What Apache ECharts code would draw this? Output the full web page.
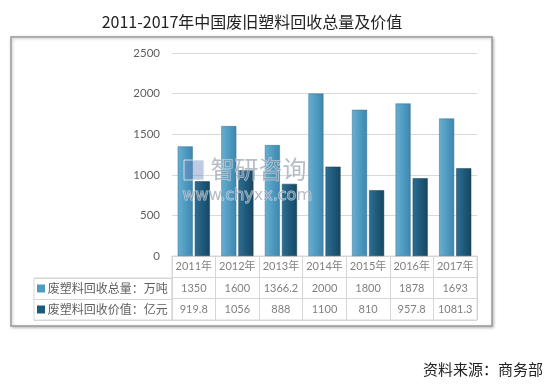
<!DOCTYPE html>
<html>
<head>
<meta charset="utf-8">
<script src="https://cdn.jsdelivr.net/npm/echarts@6/dist/echarts.min.js"></script>
<style>
html,body{margin:0;padding:0;background:#fff;}
#c{width:556px;height:388px;}
</style>
</head>
<body>
<div id="c"></div>
<script>
const years = ['2011年','2012年','2013年','2014年','2015年','2016年','2017年'];
const totalVolume = [1350, 1600, 1366.2, 2000, 1800, 1878, 1693];
const totalValue = [919.8, 1056, 888, 1100, 810, 957.8, 1081.3];
const seriesNames = ['废塑料回收总量：万吨', '废塑料回收价值：亿元'];
const yTicks = [0, 500, 1000, 1500, 2000, 2500];

const lightColor = new echarts.graphic.LinearGradient(0,0,1,0,[
  {offset:0,color:'#6aaed0'},{offset:0.5,color:'#4f9bc2'},{offset:1,color:'#3f86ac'}]);
const darkColor = new echarts.graphic.LinearGradient(0,0,1,0,[
  {offset:0,color:'#2f6f92'},{offset:0.5,color:'#1f5a7c'},{offset:1,color:'#17475f'}]);

const rowKeys = ['h','r1','r2'];
const tableData = [];
years.forEach((y,i)=>{
  tableData.push({value:[y,'h'], txt:y});
  tableData.push({value:[y,'r1'], txt:String(totalVolume[i])});
  tableData.push({value:[y,'r2'], txt:String(totalValue[i])});
});

const fontNum = 'Lato, "Noto Sans CJK SC", sans-serif';
const chart = echarts.init(document.getElementById('c'), null, {renderer:'canvas'});
chart.setOption({
  animation:false,
  backgroundColor:'#fff',
  title:{text:'2011-2017年中国废旧塑料回收总量及价值', left:247, textAlign:'center', top:9,
    textStyle:{fontFamily:'"Noto Sans CJK SC"', fontSize:16, fontWeight:'normal', color:'#222'}},
  graphic:[
    {type:'rect', shape:{x:11,y:37,width:481,height:289}, z:-10,
      style:{fill:'#fff', stroke:'#9a9a9a', lineWidth:1.5, shadowBlur:3, shadowColor:'rgba(0,0,0,0.25)', shadowOffsetX:1, shadowOffsetY:1}},
    {type:'text', left:423, top:362, z:10,
      style:{text:'资料来源：商务部', font:'15px "Noto Sans CJK SC"', fill:'#222'}},
    {type:'text', left:210, top:156, z:20,
      style:{text:'智研咨询', font:'24px "Noto Sans CJK SC"', fill:'rgba(120,135,155,0.55)', stroke:'rgba(255,255,255,0.6)', lineWidth:1}},
    {type:'text', left:182, top:187, z:20,
      style:{text:'www.chyxx.com', font:'16px "DejaVu Sans"', fill:'rgba(120,135,155,0.55)', stroke:'rgba(255,255,255,0.6)', lineWidth:1}},
    {type:'rect', shape:{x:184,y:160,width:20,height:20}, z:20,
      style:{fill:'rgba(110,140,190,0.45)', stroke:'rgba(255,255,255,0.7)', lineWidth:1}}
  ],
  grid:[
    {left:172, right:79, top:53, bottom:132},
    {left:172, right:79, top:256, height:64, show:true, borderColor:'#d6d6d6', borderWidth:1, backgroundColor:'transparent'},
    {left:34, width:138, top:278, height:42, show:true, borderColor:'#d6d6d6', borderWidth:1}
  ],
  xAxis:[
    {type:'category', data:years, gridIndex:0, axisLabel:{show:false}, axisTick:{show:false}, axisLine:{show:false}},
    {type:'category', data:years, gridIndex:1, axisLabel:{show:false}, axisTick:{show:false}, axisLine:{show:false},
      splitLine:{show:true, interval:0, lineStyle:{color:'#d6d6d6'}}},
    {type:'value', gridIndex:2, show:false, min:0, max:1}
  ],
  yAxis:[
    {type:'value', gridIndex:0, min:0, max:2500, interval:500,
      axisLabel:{color:'#5f5f5f', fontSize:11.5, fontFamily:fontNum, margin:12,
        formatter:v=>yTicks.includes(v)?String(v):''},
      axisLine:{show:false}, axisTick:{show:false},
      splitLine:{lineStyle:{color:'#d9d9d9'}}},
    {type:'category', data:rowKeys, inverse:true, gridIndex:1, axisLabel:{show:false}, axisTick:{show:false}, axisLine:{show:false},
      splitLine:{show:true, interval:0, lineStyle:{color:'#d6d6d6'}}},
    {type:'category', data:['r1','r2'], inverse:true, gridIndex:2, axisTick:{show:false}, axisLine:{show:false},
      splitLine:{show:true, interval:0, lineStyle:{color:'#d6d6d6'}},
      axisLabel:{inside:true, margin:3, align:'left', color:'#5f5f5f', fontSize:12, fontFamily:'"Noto Sans CJK SC"',
        formatter:(v,i)=> (i===0?'{a|}':'{b|}') + ' ' + seriesNames[i],
        rich:{a:{width:8,height:8,backgroundColor:'#4f9bc2'}, b:{width:8,height:8,backgroundColor:'#1f5a7c'}}}}
  ],
  series:[
    {type:'bar', name:seriesNames[0], data:totalVolume, xAxisIndex:0, yAxisIndex:0, barWidth:15, barGap:'14%',
      itemStyle:{color:lightColor, borderColor:'#2f7399', borderWidth:0.5}},
    {type:'bar', name:seriesNames[1], data:totalValue, xAxisIndex:0, yAxisIndex:0, barWidth:15,
      itemStyle:{color:darkColor, borderColor:'#173f55', borderWidth:0.5}},
    {type:'scatter', xAxisIndex:1, yAxisIndex:1, symbolSize:0, data:tableData, silent:true,
      label:{show:true, position:'inside', color:'#5f5f5f', fontSize:11, fontFamily:fontNum,
        formatter:p=>p.data.txt}},
    {type:'scatter', xAxisIndex:2, yAxisIndex:2, symbolSize:0, data:[], silent:true}
  ]
});
</script>
</body>
</html>
